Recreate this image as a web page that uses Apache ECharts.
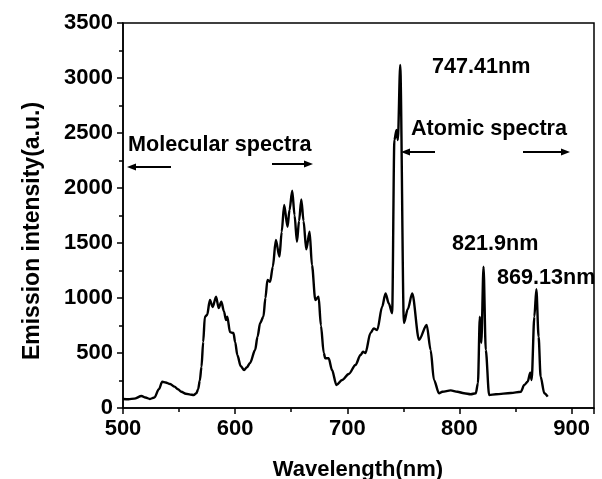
<!DOCTYPE html>
<html>
<head>
<meta charset="utf-8">
<script src="https://cdn.jsdelivr.net/npm/echarts@6/dist/echarts.min.js"></script>
<style>html,body{margin:0;padding:0;background:#fff}#c{width:602px;height:479px}</style>
</head>
<body>
<div id="c"></div>
<script>
// Wavelength (nm)
const wavelength = [500,505,510,516.5,520,524,528,532,535,538,542,546,549,552,556,560,563,565.5,567,568.5,570,571.5,573,575,577.5,580,583,585.3,587.7,590,591.9,593,595.4,598.5,600,602,605,608,610.5,613.3,617.8,620,622.3,625.2,627,628.8,631.2,633.6,636.3,639.5,641.5,643.7,646.7,648.5,650.9,653,655.1,657,659,661,663.4,666.4,668.5,671.5,674.4,676.5,679,680.4,683.4,686.4,690.3,695.4,701.3,707.3,711.8,714.1,716.2,720.7,723.6,726.7,731.1,734.1,737,740,742,743.9,745.1,747.2,750.5,754,757.9,764,770.8,774.3,777.3,781.8,784.8,792.2,798.2,804.1,810.1,814.6,816.5,818.2,819.5,821.5,823.5,826.5,832.5,845.9,854.8,857.8,860.8,863.2,864.4,866.8,868.6,870.6,872.4,875.7,878.7];
// Emission intensity (a.u.)
const intensity = [82,80,85,109,95,82,95,170,239,232,218,194,170,148,130,122,118,135,170,250,375,600,830,845,982,918,1012,909,966,878,800,830,690,682,600,480,380,345,370,409,527,650,773,830,1000,1164,1148,1285,1527,1376,1600,1845,1648,1800,1975,1750,1512,1700,1897,1700,1442,1603,1300,982,1012,750,500,452,452,345,209,255,309,391,482,512,500,682,724,709,921,1042,951,861,2436,2527,2436,3118,773,900,1042,620,755,527,255,134,148,160,148,134,125,134,225,830,591,1285,527,118,125,136,148,209,239,321,255,830,1080,648,285,134,103];
const xTicks = [500,600,700,800,900];
const yTicks = [0,500,1000,1500,2000,2500,3000,3500];
const peakLabels = ['747.41nm','821.9nm','869.13nm'];
const regionLabels = ['Molecular spectra','Atomic spectra'];
const xTitle = 'Wavelength(nm)';
const yTitle = 'Emission intensity(a.u.)';

const FONT = '"Liberation Sans", Arial, sans-serif';
const chart = echarts.init(document.getElementById('c'));

function txt(text, x, y, size, align, rot) {
  return {type:'text', x:x, y:y, rotation: rot||0,
    style:{text:text, fill:'#000', font:'bold '+size+'px '+FONT,
      textAlign: align, textVerticalAlign:'middle'}};
}
function arrow(x1, x2, y) {
  const dir = x2 > x1 ? 1 : -1;
  const hl = 9, hw = 3.5;
  return [
    {type:'line', shape:{x1:x1, y1:y, x2:x2 - dir*hl*0.8, y2:y}, style:{stroke:'#000', lineWidth:2}},
    {type:'polygon', shape:{points:[[x2,y],[x2-dir*hl,y-hw],[x2-dir*hl,y+hw]]}, style:{fill:'#000'}}
  ];
}

const data = wavelength.map((w,i)=>[w,intensity[i]]);
const labelStyle = {color:'#000', fontFamily:FONT, fontWeight:'bold', fontSize:22};

chart.setOption({
  animation:false,
  backgroundColor:'#fff',
  grid:{left:123, right:8, top:23, bottom:71, show:true, borderColor:'#000', borderWidth:1.5},
  xAxis:{type:'value', min:500, max:920, interval:100,
    axisLine:{lineStyle:{color:'#000', width:1.5}},
    axisTick:{length:6, lineStyle:{color:'#000', width:1.5}},
    minorTick:{show:true, splitNumber:2, length:4, lineStyle:{color:'#000', width:1.5}},
    splitLine:{show:false},
    axisLabel:Object.assign({margin:10, formatter:v=>xTicks.indexOf(v)>=0?String(v):''}, labelStyle)
  },
  yAxis:{type:'value', min:0, max:3500, interval:500,
    axisLine:{show:true, lineStyle:{color:'#000', width:1.5}},
    axisTick:{show:true, length:6, lineStyle:{color:'#000', width:1.5}},
    minorTick:{show:true, splitNumber:2, length:4, lineStyle:{color:'#000', width:1.5}},
    splitLine:{show:false},
    axisLabel:Object.assign({margin:10, formatter:v=>yTicks.indexOf(v)>=0?String(v):''}, labelStyle)
  },
  series:[{type:'line', data:data, showSymbol:false, symbol:'none',
    lineStyle:{color:'#000', width:2.4}, smooth:0.3, smoothMonotone:'x'}],
  graphic:[
    txt(yTitle, 33, 231, 23, 'center', Math.PI/2),
    txt(xTitle, 358, 470, 22, 'center'),
    txt(regionLabels[0], 128, 145, 21.6, 'left'),
    txt(regionLabels[1], 411, 129, 21.6, 'left'),
    txt(peakLabels[0], 432, 67, 21.6, 'left'),
    txt(peakLabels[1], 452, 244, 21.6, 'left'),
    txt(peakLabels[2], 497, 278, 21.6, 'left'),
    ...arrow(171, 127, 167),
    ...arrow(272, 313, 164),
    ...arrow(435, 401, 152),
    ...arrow(523, 570, 152)
  ]
});
</script>
</body>
</html>
